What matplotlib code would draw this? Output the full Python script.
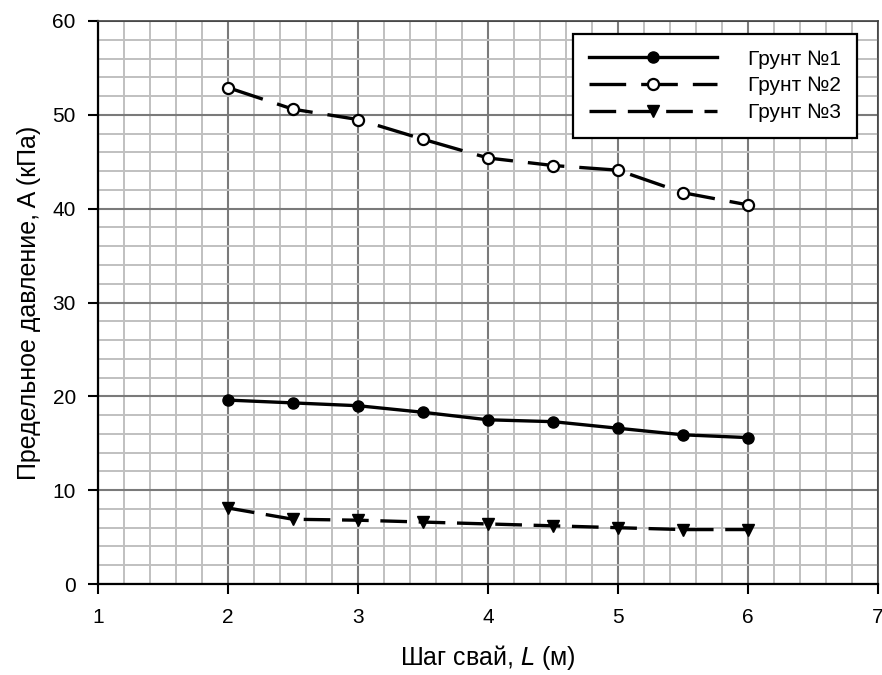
import matplotlib
matplotlib.use("Agg")
import matplotlib.pyplot as plt
from matplotlib.ticker import MultipleLocator

plt.rcParams["font.family"] = ["Liberation Sans", "DejaVu Sans"]

# Шаг свай, м
step_m = [2.0, 2.5, 3.0, 3.5, 4.0, 4.5, 5.0, 5.5, 6.0]
# Предельное давление, кПа
soil1 = [19.6, 19.3, 19.0, 18.3, 17.5, 17.3, 16.6, 15.9, 15.6]
soil2 = [52.9, 50.6, 49.5, 47.4, 45.4, 44.6, 44.1, 41.7, 40.4]
soil3 = [8.1, 6.9, 6.8, 6.6, 6.4, 6.2, 6.0, 5.8, 5.8]
labels = ["Грунт №1", "Грунт №2", "Грунт №3"]

fig = plt.figure(figsize=(8.82, 6.75), dpi=100)
ax = fig.add_axes([98 / 882, 1 - 584 / 675, 780 / 882, 563 / 675])

lw = 2.4
ax.plot(step_m, soil1, color="black", lw=lw, marker="o", ms=8,
        markerfacecolor="black", label=labels[0])
ax.plot(step_m, soil2, color="black", lw=lw, marker="o", ms=8,
        markerfacecolor="white", markeredgewidth=1.6,
        dashes=(11, 4.5), label=labels[1])
ax.plot(step_m, soil3, color="black", lw=lw, marker="v", ms=9,
        dashes=(8, 3.5), label=labels[2])

ax.set_xlim(1, 7)
ax.set_ylim(0, 60)
ax.xaxis.set_major_locator(MultipleLocator(1))
ax.xaxis.set_minor_locator(MultipleLocator(0.2))
ax.yaxis.set_major_locator(MultipleLocator(10))
ax.yaxis.set_minor_locator(MultipleLocator(2))
ax.grid(True, which="minor", color="#c0c0c0", lw=1.4)
ax.grid(True, which="major", color="#7a7a7a", lw=1.5)
ax.set_axisbelow(True)

ax.tick_params(which="major", direction="out", length=7, width=1.5,
               labelsize=15, pad=10, colors="black")
ax.tick_params(which="minor", length=0)
ax.tick_params(axis="y", pad=9)
for side in ("left", "bottom"):
    ax.spines[side].set_linewidth(1.6)
    ax.spines[side].set_color("black")
for side in ("top", "right"):
    ax.spines[side].set_linewidth(1.2)
    ax.spines[side].set_color("#404040")

ax.set_xlabel("Шаг свай, $\\it{L}$ (м)", fontsize=18, labelpad=12)
ax.set_ylabel("Предельное давление, A (кПа)", fontsize=18, labelpad=8)

leg = ax.legend(loc="upper left", bbox_to_anchor=(0.609, 0.977), fontsize=15,
                frameon=True, fancybox=False, edgecolor="black",
                handlelength=6.15, handletextpad=1.5, borderpad=0.75,
                borderaxespad=0, labelspacing=0.38)
leg.get_frame().set_linewidth(1.6)
leg.get_frame().set_alpha(1)

fig.savefig("out.png", dpi=100)
